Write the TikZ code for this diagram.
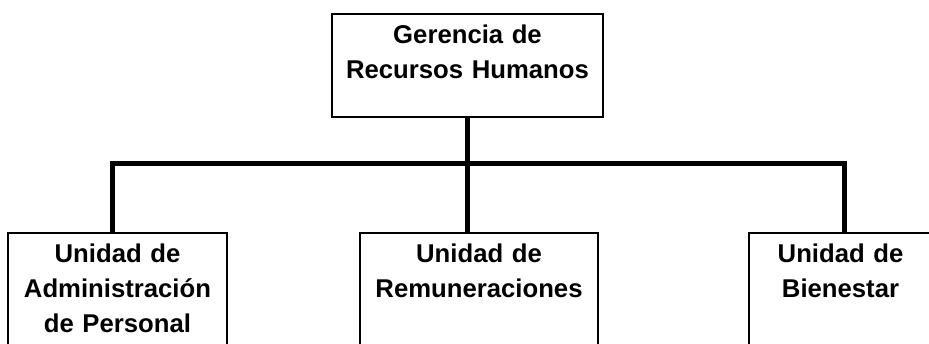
\documentclass[tikz,border=0pt]{standalone}
\usepackage{fontspec}
\setmainfont{Liberation Sans}
\usetikzlibrary{positioning}

\begin{document}
\begin{tikzpicture}[x=0.5pt, y=-0.5pt,
        unit/.style={draw, line width=0.75pt, align=center, anchor=north,
            inner xsep=0pt, inner ysep=6pt, text height=9pt,
            font=\fontsize{12.85pt}{17.5pt}\selectfont\bfseries},
        bus/.style={line width=2.5pt}]
        \useasboundingbox (0,0) rectangle (929,343);
        \clip (0,0) rectangle (929,343);

        % head box
        \node[unit, text width=135.5pt, text depth=30.5pt] (rrhh) at (467.5,13) {Gerencia de\\Recursos Humanos};

        % unit boxes
        \node[unit, text width=109.5pt, text depth=70pt] (adm) at (117.5,232) {Unidad de\\Administración\\de Personal};
        \node[unit, text width=119pt, text depth=70pt] (rem) at (479,232) {Unidad de\\Remuneraciones};
        \node[unit, text width=91.5pt, text depth=70pt] (bien) at (840.5,232) {Unidad de\\Bienestar};

        % bus
        \coordinate (busL) at (112,163);
        \coordinate (busR) at (844,163);
        \draw[bus] (rrhh.south) -- (rrhh.south |- rem.north);
        \draw[bus] (busL |- adm.north) -- (busL) -- (busR) -- (busR |- bien.north);
    \end{tikzpicture}
\end{document}
